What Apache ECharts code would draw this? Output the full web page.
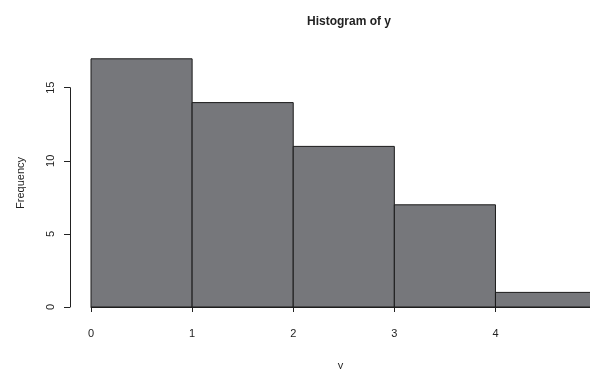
<!DOCTYPE html>
<html><head><meta charset="utf-8">
<script src="https://cdn.jsdelivr.net/npm/echarts@6/dist/echarts.min.js"></script>
<style>html,body{margin:0;padding:0;background:#fff}#c{width:590px;height:369px}</style>
</head><body><div id="c"></div>
<script>
const binStarts = [0, 1, 2, 3, 4];
const binEnds = [1, 2, 3, 4, 5];
const counts = [17, 14, 11, 7, 1];
const xTicks = [0, 1, 2, 3, 4];
const yTicks = [0, 5, 10, 15];

const FONT = '"Liberation Sans", Arial, sans-serif';
const TXT = '#222';
const chart = echarts.init(document.getElementById('c'), null, {renderer: 'canvas'});
const barData = binStarts.map((s, i) => [s, binEnds[i], counts[i]]);

chart.setOption({
  backgroundColor: '#fff',
  animation: false,
  title: {
    text: 'Histogram of y', left: 344, top: 11, textAlign: 'center',
    textStyle: {fontFamily: FONT, fontSize: 12, fontWeight: 'bold', color: TXT}
  },
  grid: [
    {left: 91, right: 0, top: 58.8, bottom: 62, containLabel: false, outerBoundsMode: 'none'},
    {left: 70, width: 1, top: 87.7, bottom: 62, containLabel: false, outerBoundsMode: 'none'}
  ],
  xAxis: [
    {
      gridIndex: 0, type: 'value', min: 0, max: 4.935, offset: 11,
      axisLine: {show: true, lineStyle: {color: '#222', width: 1}},
      axisTick: {show: true, length: 5, lineStyle: {color: '#222'}, customValues: xTicks},
      axisLabel: {
        fontFamily: FONT, fontSize: 11, color: TXT, margin: 10,
        customValues: xTicks, formatter: v => String(v)
      },
      splitLine: {show: false},
      name: 'y', nameLocation: 'middle', nameGap: 42,
      nameTextStyle: {fontFamily: FONT, fontSize: 11, color: TXT}
    },
    {gridIndex: 1, type: 'value', show: false}
  ],
  yAxis: [
    {
      gridIndex: 0, type: 'value', min: 0, max: 17,
      axisLine: {show: false}, axisTick: {show: false}, axisLabel: {show: false},
      splitLine: {show: false},
      name: 'Frequency', nameLocation: 'middle', nameGap: 65,
      nameTextStyle: {fontFamily: FONT, fontSize: 11, color: TXT}
    },
    {
      gridIndex: 1, type: 'value', min: 0, max: 15,
      axisLine: {show: true, lineStyle: {color: '#222', width: 1}},
      axisTick: {show: true, length: 6, lineStyle: {color: '#222'}, customValues: yTicks},
      axisLabel: {
        fontFamily: FONT, fontSize: 11, color: TXT, rotate: 90, margin: 14,
        customValues: yTicks, formatter: v => String(v)
      },
      splitLine: {show: false}
    }
  ],
  series: [{
    type: 'custom',
    xAxisIndex: 0, yAxisIndex: 0,
    data: barData,
    renderItem: function (params, api) {
      const p0 = api.coord([api.value(0), 0]);
      const p1 = api.coord([api.value(1), api.value(2)]);
      const rect = {x: p0[0], y: p1[1], width: p1[0] - p0[0], height: p0[1] - p1[1]};
      const shape = echarts.graphic.clipRectByRect(rect, {
        x: params.coordSys.x, y: params.coordSys.y - 1,
        width: params.coordSys.width + 2, height: params.coordSys.height + 2
      });
      if (!shape) return;
      return {
        type: 'rect', shape: shape,
        style: {fill: '#76777b', stroke: '#1a1a1a', lineWidth: 1}
      };
    }
  }]
});
</script></body></html>
